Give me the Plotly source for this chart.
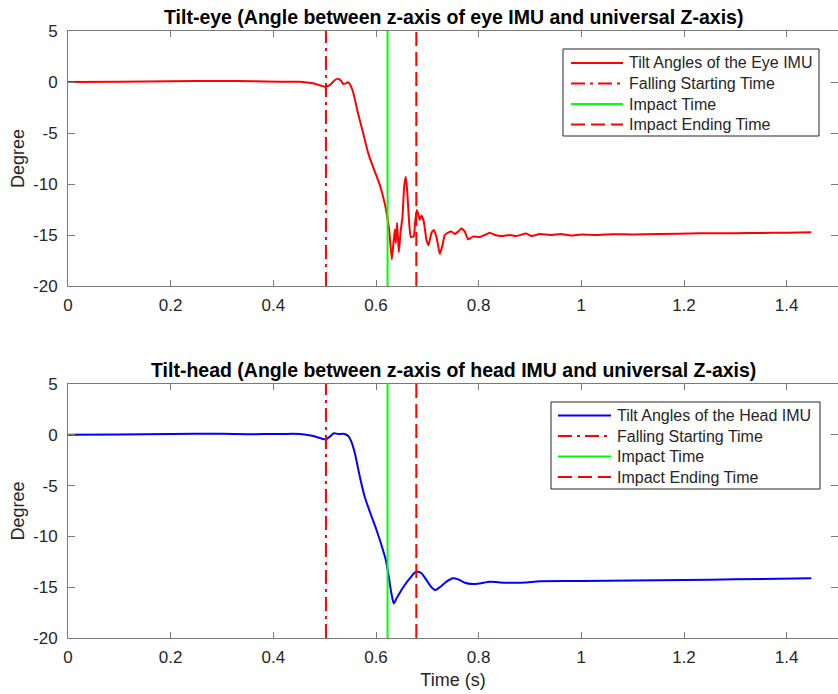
import plotly.graph_objects as go

# ---------------- data ----------------
eye_t = [0.0, 0.1, 0.2, 0.3, 0.36, 0.413, 0.452, 0.478, 0.500, 0.510, 0.520, 0.526, 0.532,
         0.536, 0.541, 0.546, 0.550, 0.556, 0.565, 0.575, 0.585, 0.594, 0.6075, 0.617,
         0.6218, 0.6257, 0.6308, 0.634, 0.6367, 0.6386, 0.641, 0.6445, 0.6477, 0.6516,
         0.6548, 0.658, 0.6607, 0.6646, 0.6678, 0.6737, 0.676, 0.6795, 0.6827, 0.685,
         0.6886, 0.6932, 0.6984, 0.7022, 0.708, 0.7126, 0.7178, 0.7243, 0.7295, 0.734,
         0.7405, 0.747, 0.7535, 0.760, 0.7665, 0.773, 0.7794, 0.789, 0.802, 0.812, 0.8217,
         0.832, 0.8444, 0.8606, 0.8736, 0.893, 0.903, 0.919, 0.94, 0.96, 0.98, 1.0, 1.03,
         1.06, 1.1, 1.15, 1.23, 1.3, 1.35, 1.4, 1.448]
eye_deg = [0.0, 0.03, 0.08, 0.1, 0.08, 0.03, 0.03, -0.13, -0.46, -0.3, 0.2, 0.33, 0.13,
           -0.2, -0.13, -0.03, -0.3, -1.1, -3.07, -5.03, -7.0, -8.3, -10.1, -11.9,
           -13.2, -14.5, -17.4, -15.8, -14.45, -15.8, -13.8, -16.7, -14.8, -13.2,
           -10.3, -9.3, -10.6, -13.85, -15.2, -15.1, -13.85, -12.55, -13.0, -13.5,
           -13.1, -13.7, -15.5, -16.0, -14.8, -14.5, -15.2, -16.86, -16.0, -15.0,
           -14.77, -14.67, -14.9, -14.67, -14.35, -14.67, -15.43, -15.16, -15.2, -15.0, -14.77,
           -15.0, -15.1, -15.0, -15.1, -14.85, -15.1, -14.9, -15.0, -14.9, -15.05, -14.95, -15.0,
           -14.92, -14.95, -14.9, -14.84, -14.82, -14.8, -14.77, -14.74]

head_t = [0.0, 0.1, 0.2, 0.3, 0.35, 0.413, 0.452, 0.478, 0.502, 0.510, 0.518, 0.526, 0.539,
          0.547, 0.552, 0.5588, 0.5685, 0.578, 0.588, 0.601, 0.6106, 0.619, 0.6249, 0.630,
          0.6347, 0.64, 0.6464, 0.656, 0.6659, 0.6756, 0.6821, 0.6886, 0.6983, 0.708,
          0.7158, 0.7243, 0.7373, 0.750, 0.760, 0.773, 0.788, 0.802, 0.8217, 0.841, 0.867,
          0.893, 0.919, 1.0, 1.1, 1.2, 1.3, 1.448]
head_deg = [0.0, 0.04, 0.08, 0.1, 0.06, 0.08, 0.08, -0.12, -0.45, -0.18, 0.15, 0.08, 0.08,
            -0.18, -0.68, -1.82, -4.12, -6.09, -7.57, -9.37, -10.85, -12.3, -13.97, -15.6,
            -16.6, -16.1, -15.54, -14.78, -14.13, -13.57, -13.47, -13.63, -14.3, -15.0,
            -15.28, -15.0, -14.46, -14.13, -14.23, -14.56, -14.69, -14.63, -14.46, -14.53, -14.56,
            -14.53, -14.42, -14.4, -14.35, -14.3, -14.22, -14.12]

falling_start = 0.5025
impact_time = 0.6225
impact_end = 0.6785

x_ticks = [0, 0.2, 0.4, 0.6, 0.8, 1.0, 1.2, 1.4]
x_ticklabels = ["0", "0.2", "0.4", "0.6", "0.8", "1", "1.2", "1.4"]
y_ticks = [-20, -15, -10, -5, 0, 5]
y_ticklabels = ["-20", "-15", "-10", "-5", "0", "5"]
y_range = [-20, 5]
x_range = [0, 1.5]

titles = ["Tilt-eye (Angle between z-axis of eye IMU and universal Z-axis)",
          "Tilt-head (Angle between z-axis of head IMU and universal Z-axis)"]
legend_eye = ["Tilt Angles of the Eye IMU", "Falling Starting Time", "Impact Time",
              "Impact Ending Time"]
legend_head = ["Tilt Angles of the Head IMU", "Falling Starting Time", "Impact Time",
               "Impact Ending Time"]

# ---------------- figure ----------------
FONT = "Liberation Sans, Arial, Helvetica, sans-serif"
TXT = "#262626"
RED, GREEN, BLUE = "#ff0000", "#00ff00", "#0000ff"
DASHDOT = "14px,5px,3px,5px"
DASH = "14px,6px"
AXCOL = "#7a7a7a"

W, H, ML, MT, MB = 838, 694, 68, 31, 56
PW, PH = W - ML, H - MT - MB


def px(p):
    return (p - ML) / PW


def py(p):
    return (H - MB - p) / PH


fig = go.Figure()


def styles(color):
    return [dict(color=color, width=2),
            dict(color=RED, width=2, dash=DASHDOT),
            dict(color=GREEN, width=2),
            dict(color=RED, width=2, dash=DASH)]


def add_panel(xa, ya, t, d, names, color, smoothing):
    st = styles(color)
    main = dict(st[0], shape="spline", smoothing=smoothing)
    fig.add_trace(go.Scatter(x=t, y=d, mode="lines", name=names[0], line=main,
                             xaxis=xa, yaxis=ya, showlegend=False))
    for name, xv, s in zip(names[1:], [falling_start, impact_time, impact_end], st[1:]):
        fig.add_trace(go.Scatter(x=[xv, xv], y=y_range, mode="lines", name=name, line=s,
                                 xaxis=xa, yaxis=ya, showlegend=False))


add_panel("x", "y", eye_t, eye_deg, legend_eye, RED, 0.4)
add_panel("x2", "y2", head_t, head_deg, legend_head, BLUE, 0.7)

shapes, annotations = [], []


def add_legend(names, color, box, rows, line_x, text_x):
    x0, y0, x1, y1 = box
    shapes.append(dict(type="rect", xref="paper", yref="paper",
                       x0=px(x0), x1=px(x1), y0=py(y0), y1=py(y1),
                       line=dict(color=TXT, width=1), fillcolor="white", layer="above"))
    for name, r, s in zip(names, rows, styles(color)):
        shapes.append(dict(type="line", xref="paper", yref="paper",
                           x0=px(line_x[0]), x1=px(line_x[1]), y0=py(r), y1=py(r),
                           line=s, layer="above"))
        annotations.append(dict(text=name, x=px(text_x), y=py(r), xref="paper", yref="paper",
                                showarrow=False, xanchor="left", yanchor="middle",
                                font=dict(family=FONT, size=16, color=TXT)))


add_legend(legend_eye, RED, (563, 49, 819, 136), [63, 83.5, 104, 124.5], (571, 623), 627)
add_legend(legend_head, BLUE, (551, 402, 820, 489), [415.5, 436, 456.5, 477], (558, 611), 615)

for txt, yy in zip(titles, [17, 370]):
    annotations.append(dict(text="<b>" + txt + "</b>", x=0.5, y=py(yy), xref="paper",
                            yref="paper", showarrow=False, xanchor="center", yanchor="middle",
                            font=dict(family=FONT, size=19.5, color="black")))

TICKFONT = dict(family=FONT, size=17, color=TXT)
LABFONT = dict(family=FONT, size=18, color=TXT)


def xaxis(anchor, title=None):
    d = dict(domain=[0, 1], range=x_range, anchor=anchor, tickmode="array",
             tickvals=x_ticks, ticktext=x_ticklabels, ticks="inside", ticklen=6,
             tickcolor=AXCOL, showline=True, linecolor=AXCOL, linewidth=1,
             mirror="ticks", showgrid=False, zeroline=False, tickfont=TICKFONT,
             ticklabelstandoff=4)
    if title:
        d["title"] = dict(text=title, font=LABFONT, standoff=6)
    return d


def yaxis(anchor, domain):
    return dict(domain=domain, range=y_range, anchor=anchor, tickmode="array",
                tickvals=y_ticks, ticktext=y_ticklabels, ticks="inside", ticklen=7,
                tickcolor=AXCOL, showline=True, linecolor=AXCOL, linewidth=1,
                mirror="ticks", showgrid=False, zeroline=False, tickfont=TICKFONT,
                ticklabelstandoff=6,
                title=dict(text="Degree", font=LABFONT, standoff=3))


fig.update_layout(
    width=W, height=H,
    margin=dict(l=ML, r=0, t=MT, b=MB, autoexpand=False),
    paper_bgcolor="white", plot_bgcolor="white",
    font=dict(family=FONT, size=16, color=TXT),
    xaxis=xaxis("y"),
    yaxis=yaxis("x", [py(286), 1.0]),
    xaxis2=xaxis("y2", "Time (s)"),
    yaxis2=yaxis("x2", [0.0, py(384)]),
    showlegend=False,
    shapes=shapes,
    annotations=annotations,
)

fig.write_html("out.html")
